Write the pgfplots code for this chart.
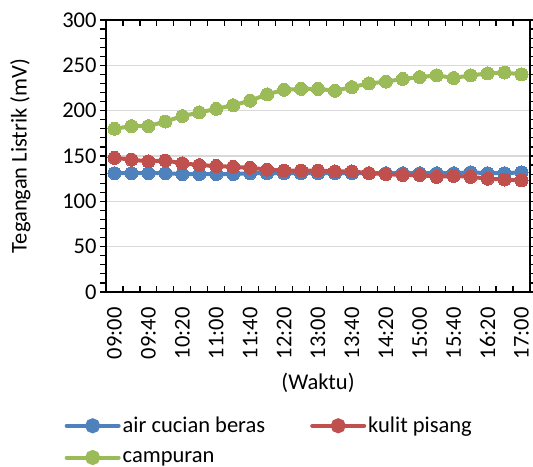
\documentclass[border=0pt]{standalone}
\usepackage{fontspec}
\setmainfont{Carlito}
\usepackage{pgfplots}
\pgfplotsset{compat=1.18}

\definecolor{cblue}{RGB}{79,129,189}
\definecolor{cred}{RGB}{192,80,77}
\definecolor{cgreen}{RGB}{155,187,89}
\definecolor{cgrid}{RGB}{217,217,217}

\begin{document}
\begin{tikzpicture}
\useasboundingbox (0,0) rectangle (533bp,467bp);
\begin{axis}[
    at={(106bp,175bp)}, anchor=south west,
    scale only axis,
    width=424bp, height=272bp,
    font=\fontsize{22.5bp}{27bp}\selectfont,
    /pgf/number format/assume math mode=true,
    xmin=-0.5, xmax=24.5,
    ymin=0, ymax=300,
    xtick={0,2,...,24},
    xticklabels={09:00,09:40,10:20,11:00,11:40,12:20,13:00,13:40,14:20,15:00,15:40,16:20,17:00},
    minor xtick={0.5,1.5,...,23.5},
    major x tick style={draw=none},
    minor x tick style={black, line width=1.2bp},
    xtick align=inside,
    xticklabel style={rotate=90, anchor=east, xshift=-12bp},
    ytick={0,50,...,300},
    minor ytick={10,20,...,290},
    ytick align=outside,
    y tick style={black, line width=1.2bp},
    major tick length=6bp, minor tick length=6bp,
    ymajorgrids,
    major y grid style={cgrid, line width=1.2bp},
    axis line style={black, line width=1.4bp},
    tick label style={font=\fontsize{22.5bp}{27bp}\selectfont},
    xlabel={(Waktu)},
    ylabel={Tegangan Listrik (mV)},
    xlabel style={at={(axis description cs:0.5,-0.335)}, anchor=center},
    ylabel style={at={(axis description cs:-0.202,0.5)}, anchor=center, rotate=0},
    legend columns=2,
    legend style={at={(axis description cs:-0.105,-0.445)}, anchor=north west,
        draw=none, fill=none, font=\fontsize{22.5bp}{27bp}\selectfont,
        /tikz/every even column/.append style={column sep=43bp},
        row sep=13bp},
    legend cell align=left,
    legend image code/.code={
        \draw[#1, mark=none, line width=4bp, line cap=round] (0bp,0bp) -- (52bp,0bp);
        \fill[#1] (26bp,0bp) circle (5.5bp);
    },
]
\addplot[cblue, line width=4bp, mark=*, mark size=6.5bp, mark options={fill=cblue, draw=cblue, line width=0bp}] coordinates {
(0,131)(1,131)(2,131)(3,131)(4,130)(5,130)(6,130)(7,130)(8,131)(9,131)(10,131)(11,131)(12,131)
(13,131)(14,131)(15,131)(16,131)(17,131)(18,131)(19,131)(20,131)(21,132)(22,131)(23,131)(24,132)
};
\addlegendentry{air cucian beras}
\addplot[cred, line width=4bp, mark=*, mark size=6.5bp, mark options={fill=cred, draw=cred, line width=0bp}] coordinates {
(0,148)(1,146)(2,144)(3,145)(4,142)(5,140)(6,139)(7,138)(8,137)(9,135)(10,134)(11,134)(12,134)
(13,133)(14,133)(15,131)(16,130)(17,129)(18,129)(19,127)(20,128)(21,127)(22,125)(23,124)(24,123)
};
\addlegendentry{kulit pisang}
\addplot[cgreen, line width=4bp, mark=*, mark size=6.5bp, mark options={fill=cgreen, draw=cgreen, line width=0bp}] coordinates {
(0,180)(1,183)(2,183)(3,188)(4,194)(5,198)(6,202)(7,206)(8,211)(9,218)(10,223)(11,224)(12,224)
(13,222)(14,226)(15,230)(16,232)(17,235)(18,237)(19,239)(20,236)(21,239)(22,241)(23,242)(24,240)
};
\addlegendentry{campuran}
\end{axis}
\end{tikzpicture}
\end{document}
